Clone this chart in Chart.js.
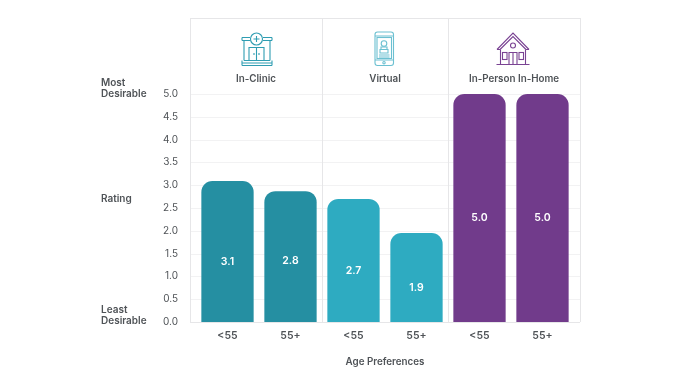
<!DOCTYPE html>
<html>
<head>
<meta charset="utf-8">
<script src="https://cdn.jsdelivr.net/npm/chart.js@4"></script>
<style>
  html, body { margin: 0; background: #fff; overflow: hidden; }
  #wrap { position: relative; width: 680px; height: 383px; }
  canvas { position: absolute; left: 0; top: 0; }
  svg { position: absolute; fill: none; stroke-width: 1.1; }
</style>
</head>
<body>
<div id="wrap">
  <canvas id="chart" width="680" height="383"></canvas>

  <!-- clinic icon -->
  <svg style="left:241px;top:31px;stroke:#2f9db2" width="32" height="36" viewBox="0 0 32 36">
    <circle cx="15.5" cy="8" r="6"/>
    <path d="M15.5 5v6M12.5 8h6"/>
    <path d="M1 6.500h8M22 6.500h9M1 9.500h8.500M22 9.500h9M1 6.500v3M31 6.500v3"/>
    <path d="M3 9.500v20M29 9.500v20"/>
    <path d="M8 29.500V16.500h15v13M15.500 16.500v13M13 22v2M18 22v2"/>
    <path d="M3 29.500h26M1 32h30M1 34.500h30M1 29.500v5M31 29.500v5"/>
  </svg>

  <!-- phone icon -->
  <svg style="left:374px;top:31px;stroke:#6cc0d1" width="21" height="36" viewBox="0 0 21 36">
    <rect x="1" y="1" width="18.500" height="33.500" rx="2.500"/>
    <path d="M1 5h18.500M1 29h18.500"/>
    <circle cx="10" cy="31.700" r="1.200"/>
    <rect x="3" y="6.500" width="14.500" height="21"/>
    <circle cx="10" cy="12.500" r="2.800"/>
    <path d="M7 18.500v-2.500h6v2.500M6 18.500h8v3.500H6zM5 24h10.500M5 26h10.500"/>
  </svg>

  <!-- home icon -->
  <svg style="left:496px;top:31px;stroke:#7a4393" width="35" height="36" viewBox="0 0 35 36">
    <path d="M1 18.500L17 2l16 16.500M4 18.500L17 5.500l13 13"/>
    <path d="M1 18.500h3M30 18.500h3"/>
    <path d="M4.500 18.500v15M29.500 18.500v15"/>
    <circle cx="17" cy="14.500" r="2.500"/>
    <path d="M13 33.500V21.500h8v12M17 21.500v12"/>
    <rect x="6.500" y="21.500" width="4.500" height="7"/>
    <rect x="23" y="21.500" width="4.500" height="7"/>
    <path d="M0.500 33.500h33"/>
  </svg>
</div>

<script>
const ageLabels = ["<55", "55+", "<55", "55+", "<55", "55+"];
const ratings = [3.09, 2.87, 2.7, 1.95, 5, 5];
const ratingLabels = ["3.1", "2.8", "2.7", "1.9", "5.0", "5.0"];
const barColors = ["#258fa2", "#258fa2", "#2eabc1", "#2eabc1", "#713b8b", "#713b8b"];
const groupNames = ["In-Clinic", "Virtual", "In-Person In-Home"];
const yTicks = [0, 0.5, 1, 1.5, 2, 2.5, 3, 3.5, 4, 4.5, 5];

const FONT = "Inter, sans-serif";
const TEXT = "#4f5357";

// column edges of the frame: outer sides plus the two group separators
function frameEdges(chart) {
  const { chartArea: a, scales: { x } } = chart;
  return [a.left - 6, (x.getPixelForValue(1) + x.getPixelForValue(2)) / 2,
    (x.getPixelForValue(3) + x.getPixelForValue(4)) / 2, a.right + 6];
}

// frame, grid, group headings and the side captions around the plot
const decorations = {
  id: "decorations",
  beforeDatasetsDraw(chart) {
    const { ctx, chartArea: a, scales: { y } } = chart;
    const edges = frameEdges(chart);
    const left = edges[0], right = edges[3], top = 18;
    ctx.save();
    ctx.lineWidth = 1;

    ctx.strokeStyle = "#f2f2f3";
    ctx.beginPath();
    yTicks.slice(1).forEach(t => {
      const py = Math.round(y.getPixelForValue(t)) + 0.5;
      ctx.moveTo(left, py);
      ctx.lineTo(right, py);
    });
    ctx.stroke();

    ctx.strokeStyle = "#e6e6e8";
    ctx.beginPath();
    ctx.moveTo(left, top + 0.5);
    ctx.lineTo(right, top + 0.5);
    ctx.moveTo(left, a.bottom + 0.5);
    ctx.lineTo(right, a.bottom + 0.5);
    edges.forEach(px => {
      const p = Math.round(px) + 0.5;
      ctx.moveTo(p, top);
      ctx.lineTo(p, a.bottom);
    });
    ctx.stroke();
    ctx.restore();
  },
  afterDatasetsDraw(chart) {
    const { ctx, scales: { x, y } } = chart;
    const edges = frameEdges(chart);
    ctx.save();
    ctx.textBaseline = "middle";

    // value labels sit a little under the middle of each bar (the second one higher)
    ctx.font = "600 10.5px " + FONT;
    ctx.fillStyle = "#fff";
    ctx.textAlign = "center";
    ratings.forEach((v, i) => {
      const nudge = i === 1 ? 4 : 10;
      ctx.fillText(ratingLabels[i], x.getPixelForValue(i), (y.getPixelForValue(v) + y.getPixelForValue(0)) / 2 + nudge);
    });

    ctx.fillStyle = TEXT;
    ctx.font = "600 9.8px " + FONT;
    groupNames.forEach((name, i) => {
      ctx.fillText(name, (edges[i] + edges[i + 1]) / 2, 79);
    });
    ctx.fillText("Age Preferences", 385, 362);

    ctx.font = "600 10px " + FONT;
    ctx.textAlign = "left";
    ctx.fillText("Most", 101, 83);
    ctx.fillText("Desirable", 101, 94);
    ctx.fillText("Rating", 101, 199);
    ctx.fillText("Least", 101, 310);
    ctx.fillText("Desirable", 101, 321);
    ctx.restore();
  }
};

new Chart(document.getElementById("chart"), {
  type: "bar",
  data: {
    labels: ageLabels,
    datasets: [{
      data: ratings,
      backgroundColor: barColors,
      borderRadius: { topLeft: 11, topRight: 11 },
      borderSkipped: "bottom",
      barPercentage: 0.83,
      categoryPercentage: 1
    }]
  },
  options: {
    responsive: false,
    animation: false,
    layout: { padding: { top: 94, right: 106, left: 0, bottom: 0 } },
    plugins: { legend: { display: false }, tooltip: { enabled: false } },
    scales: {
      x: {
        grid: { display: false },
        border: { display: false },
        ticks: { color: TEXT, font: { family: FONT, size: 10.5, weight: "600" }, padding: 0, maxRotation: 0, autoSkip: false },
        afterFit(scale) { scale.height = 61; }
      },
      y: {
        min: 0,
        max: 5,
        afterBuildTicks(scale) { scale.ticks = yTicks.map(value => ({ value })); },
        grid: { display: false },
        border: { display: false },
        ticks: { color: TEXT, font: { family: FONT, size: 10 }, padding: 10, callback: v => v.toFixed(1) },
        afterFit(scale) { scale.width = 196; }
      }
    }
  },
  plugins: [decorations]
});
</script>
</body>
</html>
